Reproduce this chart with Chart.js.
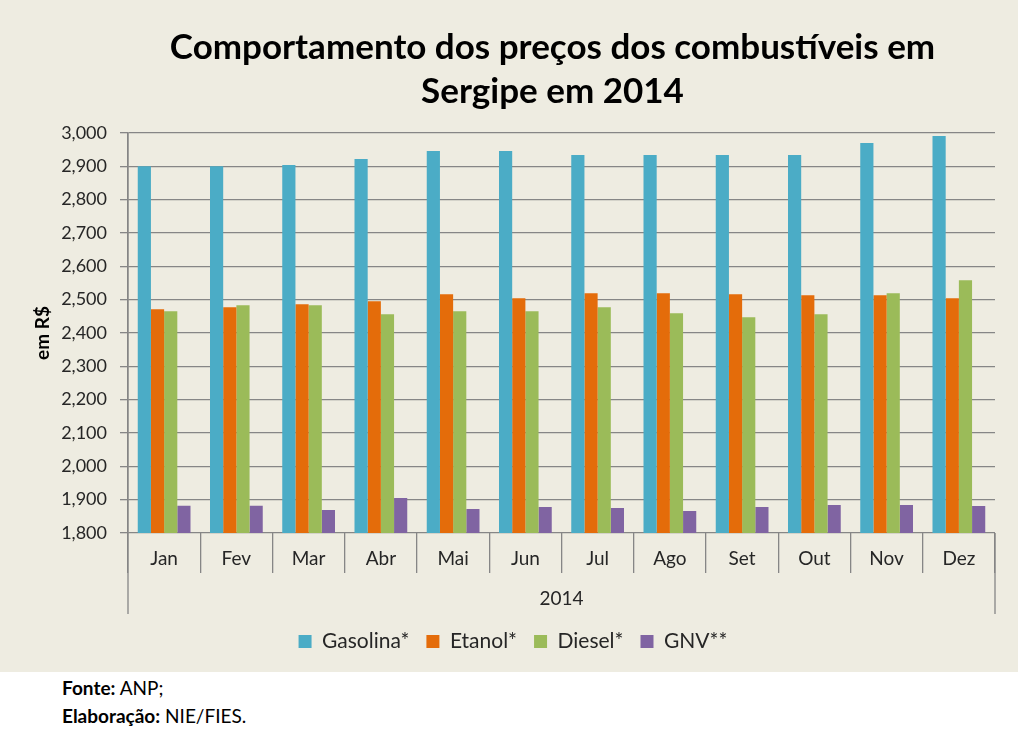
<!DOCTYPE html>
<html>
<head>
<meta charset="utf-8">
<script src="https://cdn.jsdelivr.net/npm/chart.js@4.4.1/dist/chart.umd.min.js"></script>
<style>
  body { margin: 0; background: #fff; font-family: Lato, "Open Sans", sans-serif; }
  #wrap { width: 1018px; height: 672px; background: #EEECE1; position: relative; }
  #foot { padding: 2px 0 0 62px; font-size: 19px; line-height: 28px; color: #000; }
  #foot b { font-weight: bold; }
</style>
</head>
<body>
<div id="wrap"><canvas id="chart"></canvas></div>
<div id="foot">
  <div><b>Fonte:</b> ANP;</div>
  <div><b>Elaboração:</b> NIE/FIES.</div>
</div>
<script>
// valores em R$
const months = ["Jan", "Fev", "Mar", "Abr", "Mai", "Jun", "Jul", "Ago", "Set", "Out", "Nov", "Dez"];
const gasolina = [2.900, 2.900, 2.904, 2.922, 2.946, 2.946, 2.934, 2.934, 2.934, 2.934, 2.970, 2.991];
const etanol = [2.471, 2.477, 2.486, 2.495, 2.516, 2.504, 2.519, 2.519, 2.516, 2.513, 2.513, 2.504];
const diesel = [2.465, 2.483, 2.483, 2.456, 2.465, 2.465, 2.477, 2.459, 2.447, 2.456, 2.519, 2.558];
const gnv = [1.882, 1.882, 1.869, 1.905, 1.872, 1.878, 1.875, 1.866, 1.878, 1.884, 1.884, 1.881];
const yearLabel = "2014";

const gridColor = "#868686";
const textColor = "#262626";
const fontFamily = "Lato, 'Open Sans', sans-serif";

// linhas externas do eixo de categorias (estilo multinível do Excel)
const outerLines = {
  id: "outerLines",
  afterLayout(chart) {
    // título e legenda centrados sobre a área do gráfico, não sobre o canvas
    if (chart.titleBlock) chart.titleBlock.left = 110;
    if (chart.legend) chart.legend.left += 31;
  },
  afterDraw(chart) {
    const { ctx, chartArea } = chart;
    const xs = chart.scales.x;
    ctx.save();
    ctx.strokeStyle = gridColor;
    ctx.lineWidth = 1.3;
    ctx.beginPath();
    ctx.moveTo(chartArea.left, chartArea.top);
    ctx.lineTo(chartArea.left, xs.bottom);
    ctx.moveTo(chartArea.right, chartArea.bottom);
    ctx.lineTo(chartArea.right, xs.bottom);
    ctx.stroke();
    ctx.restore();
  }
};

const toNum = v => v.toLocaleString("pt-BR", { minimumFractionDigits: 3, maximumFractionDigits: 3 });

new Chart(document.getElementById("chart"), {
  type: "bar",
  data: {
    labels: months,
    datasets: [
      { label: "Gasolina*", data: gasolina, backgroundColor: "#4BACC6" },
      { label: "Etanol*", data: etanol, backgroundColor: "#E46C0A" },
      { label: "Diesel*", data: diesel, backgroundColor: "#9BBB59" },
      { label: "GNV**", data: gnv, backgroundColor: "#8064A2" },
    ],
  },
  options: {
    responsive: true,
    maintainAspectRatio: false,
    animation: false,
    categoryPercentage: 0.73,
    barPercentage: 1,
    layout: { padding: { left: 0, right: 23, top: 0, bottom: 10 } },
    plugins: {
      title: {
        display: true,
        text: ["Comportamento dos preços dos combustíveis em", "Sergipe em 2014"],
        color: "#000",
        font: { family: fontFamily, size: 35, weight: "bold", lineHeight: 1.257 },
        padding: { top: 26, bottom: 19 },
      },
      legend: {
        position: "bottom",
        labels: {
          color: textColor,
          font: { family: fontFamily, size: 21 },
          boxWidth: 13,
          boxHeight: 13,
          padding: 17,
        },
      },
      tooltip: { enabled: false },
    },
    scales: {
      x: {
        grid: {
          offset: true,
          drawOnChartArea: false,
          tickLength: 40,
          color: gridColor,
          lineWidth: 1.3,
        },
        border: { display: false },
        ticks: {
          color: textColor,
          font: { family: fontFamily, size: 19 },
          padding: -25.4,
          maxRotation: 0,
        },
        title: {
          display: true,
          text: yearLabel,
          color: textColor,
          font: { family: fontFamily, size: 19 },
          padding: { top: 42.6, bottom: 3.6 },
        },
      },
      y: {
        min: 1.8,
        max: 3.0,
        afterFit(scale) { scale.width = 128; },
        ticks: {
          stepSize: 0.1,
          color: textColor,
          font: { family: fontFamily, size: 18 },
          padding: 13,
          callback: v => toNum(v),
        },
        grid: { color: gridColor, lineWidth: 1.3, tickLength: 8 },
        border: { color: gridColor, width: 1.3 },
        title: {
          display: true,
          text: "em R$",
          color: "#000",
          font: { family: fontFamily, size: 19, weight: "bold" },
          padding: { top: 31, bottom: 0 },
        },
      },
    },
  },
  plugins: [outerLines],
});
</script>
</body>
</html>
